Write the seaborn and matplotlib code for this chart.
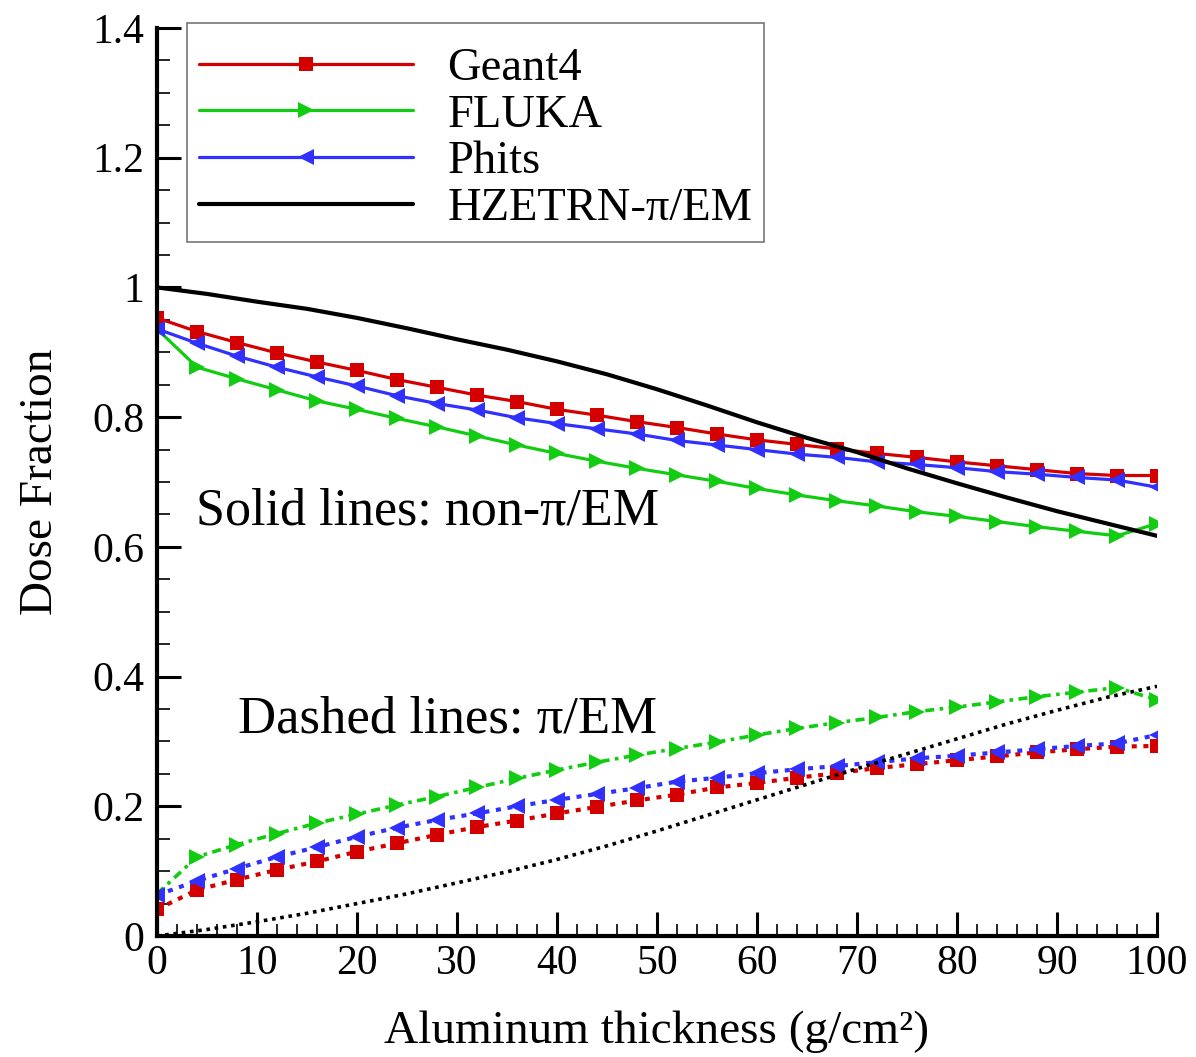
import numpy as np
import pandas as pd
import matplotlib
matplotlib.use("Agg")
import matplotlib.pyplot as plt
import seaborn as sns
from matplotlib.ticker import MultipleLocator, FixedLocator, FixedFormatter

# ---------------- data ----------------
thickness = [0, 4, 8, 12, 16, 20, 24, 28, 32, 36, 40, 44, 48, 52, 56, 60, 64, 68, 72, 76, 80, 84, 88, 92, 96, 100]

geant4_non = [0.953, 0.932, 0.915, 0.899, 0.885, 0.872, 0.858, 0.846, 0.834, 0.824, 0.812, 0.803, 0.793,
              0.784, 0.774, 0.765, 0.758, 0.751, 0.744, 0.738, 0.731, 0.725, 0.719, 0.713, 0.710, 0.710]
geant4_pem = [0.041, 0.071, 0.087, 0.102, 0.115, 0.130, 0.143, 0.156, 0.168, 0.178, 0.189, 0.199, 0.209,
              0.218, 0.229, 0.236, 0.244, 0.251, 0.259, 0.265, 0.271, 0.277, 0.283, 0.288, 0.292, 0.293]

fluka_non = [0.936, 0.877, 0.859, 0.842, 0.825, 0.812, 0.798, 0.785, 0.771, 0.757, 0.744, 0.732, 0.721,
             0.711, 0.701, 0.690, 0.680, 0.671, 0.663, 0.654, 0.647, 0.639, 0.631, 0.624, 0.617, 0.636]
fluka_pem = [0.065, 0.122, 0.141, 0.158, 0.174, 0.188, 0.202, 0.215, 0.229, 0.243, 0.256, 0.268, 0.279,
             0.289, 0.299, 0.310, 0.320, 0.329, 0.337, 0.346, 0.353, 0.361, 0.369, 0.376, 0.383, 0.364]

phits_non = [0.936, 0.914, 0.894, 0.877, 0.862, 0.848, 0.833, 0.821, 0.811, 0.799, 0.790, 0.782, 0.774,
             0.764, 0.757, 0.750, 0.743, 0.738, 0.731, 0.727, 0.722, 0.716, 0.712, 0.707, 0.703, 0.692]
phits_pem = [0.063, 0.085, 0.104, 0.122, 0.137, 0.153, 0.167, 0.179, 0.189, 0.200, 0.210, 0.219, 0.228,
             0.238, 0.244, 0.251, 0.257, 0.262, 0.268, 0.274, 0.278, 0.283, 0.288, 0.293, 0.297, 0.310]

hz_thickness = [0, 5, 10, 15, 20, 25, 30, 35, 40, 45, 50, 55, 60, 65, 70, 75, 80, 85, 90, 95, 100]
hzetrn_non = [1.000, 0.990, 0.978, 0.967, 0.953, 0.937, 0.920, 0.904, 0.886, 0.866, 0.843, 0.818,
              0.792, 0.768, 0.746, 0.721, 0.698, 0.676, 0.655, 0.636, 0.617]
hzetrn_pem = [0.000, 0.010, 0.022, 0.035, 0.050, 0.065, 0.082, 0.099, 0.118, 0.139, 0.162, 0.186,
              0.210, 0.234, 0.258, 0.281, 0.304, 0.327, 0.348, 0.368, 0.385]

labels = ["Geant4", "FLUKA", "Phits", "HZETRN-\u03c0/EM"]
y_ticks = [0, 0.2, 0.4, 0.6, 0.8, 1.0, 1.2, 1.4]
y_tick_labels = ["0", "0.2", "0.4", "0.6", "0.8", "1", "1.2", "1.4"]
x_ticks = [0, 10, 20, 30, 40, 50, 60, 70, 80, 90, 100]

# ---------------- style ----------------
sns.set_theme(style="ticks")
plt.rcParams["font.family"] = ["Liberation Serif", "DejaVu Serif"]
plt.rcParams["text.color"] = "black"
plt.rcParams["axes.labelcolor"] = "black"
plt.rcParams["xtick.color"] = "black"
plt.rcParams["ytick.color"] = "black"
plt.rcParams["xtick.labelcolor"] = "black"
plt.rcParams["ytick.labelcolor"] = "black"

RED = "#d40000"
GREEN = "#11cc11"
BLUE = "#3030ff"
BLACK = "#000000"

fig = plt.figure(figsize=(11.96, 10.57), dpi=100)
ax = fig.add_axes([157 / 1196, 121 / 1057, 1000 / 1196, 908 / 1057])

lw = 2.3
ms_sq = 10
ms_tri = 12

# solid lines (non-pi/EM)
sns.lineplot(x=thickness, y=geant4_non, ax=ax, color=RED, lw=lw, marker="s", markersize=ms_sq,
             markeredgewidth=0, legend=False, label=labels[0])
sns.lineplot(x=thickness, y=fluka_non, ax=ax, color=GREEN, lw=lw, marker=">", markersize=ms_tri,
             markeredgewidth=0, legend=False, label=labels[1])
sns.lineplot(x=thickness, y=phits_non, ax=ax, color=BLUE, lw=lw, marker="<", markersize=ms_tri,
             markeredgewidth=0, legend=False, label=labels[2])
sns.lineplot(x=hz_thickness, y=hzetrn_non, ax=ax, color=BLACK, lw=3.0, legend=False, label=labels[3])

# dashed lines (pi/EM)
sns.lineplot(x=thickness, y=geant4_pem, ax=ax, color=RED, lw=3.0, linestyle=(0, (1.2, 1.6)),
             marker="s", markersize=ms_sq, markeredgewidth=0, legend=False)
sns.lineplot(x=thickness, y=fluka_pem, ax=ax, color=GREEN, lw=2.6, linestyle=(0, (2.5, 1.5, 1, 1.5)),
             marker=">", markersize=ms_tri, markeredgewidth=0, legend=False)
sns.lineplot(x=thickness, y=phits_pem, ax=ax, color=BLUE, lw=3.0, linestyle=(0, (1.2, 1.6)),
             marker="<", markersize=ms_tri, markeredgewidth=0, legend=False)
sns.lineplot(x=hz_thickness, y=hzetrn_pem, ax=ax, color=BLACK, lw=2.6, linestyle=(0, (1, 1.3)),
             legend=False)

# axes
ax.set_xlim(0, 100)
ax.set_ylim(0, 1.4)
ax.xaxis.set_major_locator(FixedLocator(x_ticks))
ax.xaxis.set_minor_locator(MultipleLocator(2))
ax.yaxis.set_major_locator(FixedLocator(y_ticks))
ax.yaxis.set_major_formatter(FixedFormatter(y_tick_labels))
ax.yaxis.set_minor_locator(MultipleLocator(0.05))

for side in ["top", "right"]:
    ax.spines[side].set_visible(False)
for side in ["left", "bottom"]:
    ax.spines[side].set_linewidth(3)
    ax.spines[side].set_color("black")

ax.tick_params(axis="both", which="major", direction="in", length=17, width=2.2,
               labelsize=30, colors="black", labelcolor="black")
ax.tick_params(axis="both", which="minor", direction="in", length=9, width=1.2, colors="black")
ax.tick_params(axis="y", which="major", pad=9)
ax.tick_params(axis="x", which="major", pad=6)
ax.set_facecolor("white")
ax.grid(False)

ax.set_xlabel("Aluminum thickness (g/cm\u00b2)", fontsize=34, labelpad=20, color="black")
ax.set_ylabel("Dose Fraction", fontsize=34, labelpad=22, color="black")

# annotations
ax.text(3.9, 0.634, "Solid lines: non-\u03c0/EM", fontsize=37.5, ha="left", va="baseline", color="black")
ax.text(8.1, 0.313, "Dashed lines: \u03c0/EM", fontsize=38, ha="left", va="baseline", color="black")

# legend
handles = ax.lines[:4]
leg = ax.legend(handles=handles, labels=labels, loc="upper left",
                bbox_to_anchor=(30 / 1000, 1.006), fontsize=33.5, frameon=True, fancybox=False,
                handlelength=4.6, handletextpad=0.75, labelspacing=0.09, borderpad=0.25,
                numpoints=1, borderaxespad=0.0, title=" ", title_fontsize=7)
leg.get_frame().set_edgecolor("#555555")
leg.get_frame().set_linewidth(1.2)
for t in leg.get_texts():
    t.set_color("black")

fig.savefig("out.png", dpi=100, facecolor="white")
